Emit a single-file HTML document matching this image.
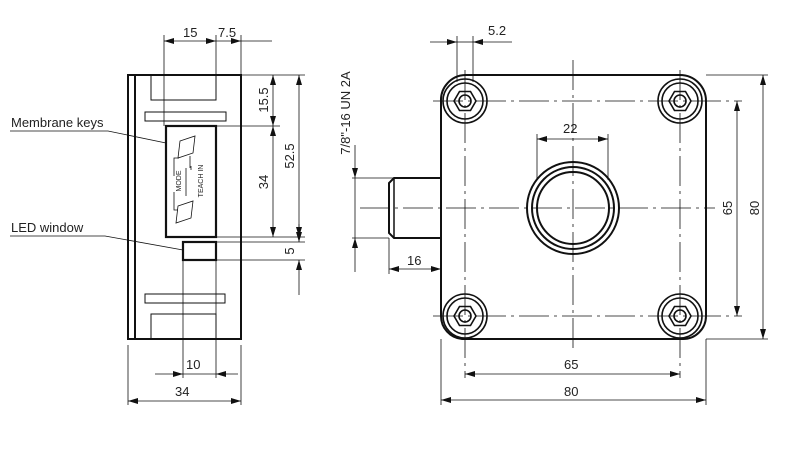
<!DOCTYPE html>
<html><head><meta charset="utf-8"><style>
html,body{margin:0;padding:0;background:#fff;}
svg{display:block;font-family:"Liberation Sans",Arial,sans-serif;}
text{font-size:13px;fill:#222;}
</style></head><body>
<svg width="800" height="461" viewBox="0 0 800 461" xmlns="http://www.w3.org/2000/svg">
<defs>
<marker id="a" viewBox="0 0 10 6" refX="10" refY="3" markerWidth="10" markerHeight="6" orient="auto-start-reverse" markerUnits="userSpaceOnUse"><path d="M0,0 L10,3 L0,6 z" fill="#111"/></marker>
</defs>
<g fill="none" stroke="#111">
<rect x="128" y="75" width="113" height="264" stroke-width="2"/>
<line x1="135" y1="75" x2="135" y2="339" stroke-width="2"/>
<polyline points="151,75 151,100 216,100 216,75" stroke-width="1"/>
<rect x="145" y="112" width="81" height="9" stroke-width="1"/>
<rect x="166" y="126" width="50" height="111" stroke-width="2.2"/>
<rect x="183" y="242" width="33" height="18" stroke-width="2.2"/>
<rect x="145" y="294" width="80" height="9" stroke-width="1"/>
<polyline points="151,339 151,314 216,314 216,339" stroke-width="1"/>
<g stroke-width="0.8">
<polygon points="180,141 195,136 193,153 178,158"/>
<polygon points="178,206 193,201 191,218 176,223"/>
<polyline points="179,158 174,158 174,176"/>
<polyline points="174,192 174,210 178,210"/>
<line x1="190" y1="156" x2="190" y2="168"/>
<line x1="186" y1="168" x2="186" y2="196"/>
<line x1="191" y1="166" x2="191" y2="170"/>
</g>
<g stroke-width="0.8">
<line x1="164" y1="35" x2="164" y2="126"/>
<line x1="216" y1="35" x2="216" y2="75"/>
<line x1="241" y1="35" x2="241" y2="75"/>
<line x1="164" y1="41" x2="216" y2="41" marker-start="url(#a)" marker-end="url(#a)"/>
<line x1="216" y1="41" x2="241" y2="41" marker-end="url(#a)"/>
<line x1="241" y1="41" x2="272" y2="41"/>
<line x1="241" y1="75" x2="305" y2="75"/>
<line x1="216" y1="126" x2="280" y2="126"/>
<line x1="216" y1="237" x2="305" y2="237"/>
<line x1="216" y1="242" x2="305" y2="242"/>
<line x1="216" y1="260" x2="305" y2="260"/>
<line x1="273" y1="75" x2="273" y2="126" marker-start="url(#a)" marker-end="url(#a)"/>
<line x1="273" y1="126" x2="273" y2="237" marker-start="url(#a)" marker-end="url(#a)"/>
<line x1="299" y1="75" x2="299" y2="237" marker-start="url(#a)" marker-end="url(#a)"/>
<line x1="299" y1="224" x2="299" y2="242" marker-end="url(#a)"/>
<line x1="299" y1="295" x2="299" y2="260" marker-end="url(#a)"/>
<line x1="183" y1="260" x2="183" y2="378"/>
<line x1="216" y1="260" x2="216" y2="378"/>
<line x1="128" y1="345" x2="128" y2="405"/>
<line x1="241" y1="345" x2="241" y2="405"/>
<line x1="155" y1="374" x2="183" y2="374" marker-end="url(#a)"/>
<line x1="238" y1="374" x2="216" y2="374" marker-end="url(#a)"/>
<line x1="183" y1="374" x2="216" y2="374"/>
<line x1="128" y1="401" x2="241" y2="401" marker-start="url(#a)" marker-end="url(#a)"/>
<polyline points="10,131 108,131 166,143"/>
<polyline points="10,236 105,236 183,250"/>
</g>

<path d="M465,75 L680,75 A26,26 0 0 1 706,101 L706,316 A23,23 0 0 1 683,339 L462,339 A23,23 0 0 1 441,316 L441,101 A25,25 0 0 1 465,75 Z" stroke-width="2"/>
<path d="M441,178 L394,178 L389,183 L389,233 L394,238 L441,238" stroke-width="2"/>
<line x1="394" y1="178" x2="394" y2="238" stroke-width="1.5"/>
<g stroke-width="1.6">
<g transform="translate(465,101)"><circle r="22"/><circle r="18"/><polygon points="11,0 5.5,9.5 -5.5,9.5 -11,0 -5.5,-9.5 5.5,-9.5"/><circle r="6"/></g>
<g transform="translate(680,101)"><circle r="22"/><circle r="18"/><polygon points="11,0 5.5,9.5 -5.5,9.5 -11,0 -5.5,-9.5 5.5,-9.5"/><circle r="6"/></g>
<g transform="translate(465,316)"><circle r="22"/><circle r="18"/><polygon points="11,0 5.5,9.5 -5.5,9.5 -11,0 -5.5,-9.5 5.5,-9.5"/><circle r="6"/></g>
<g transform="translate(680,316)"><circle r="22"/><circle r="18"/><polygon points="11,0 5.5,9.5 -5.5,9.5 -11,0 -5.5,-9.5 5.5,-9.5"/><circle r="6"/></g>
</g>
<g stroke-width="2"><circle cx="573" cy="208" r="46"/><circle cx="573" cy="208" r="41"/><circle cx="573" cy="208" r="36"/></g>
<g stroke-width="0.8" stroke-dasharray="30,5,3,5">
<line x1="433" y1="101" x2="742" y2="101"/>
<line x1="433" y1="316" x2="742" y2="316"/>
<line x1="360" y1="208" x2="715" y2="208"/>
<line x1="573" y1="60" x2="573" y2="350"/>
<line x1="465" y1="70" x2="465" y2="378"/>
<line x1="680" y1="70" x2="680" y2="378"/>
</g>
<g stroke-width="0.8">
<line x1="457" y1="36" x2="457" y2="82"/>
<line x1="473" y1="36" x2="473" y2="82"/>
<line x1="430" y1="42" x2="457" y2="42" marker-end="url(#a)"/>
<line x1="512" y1="42" x2="473" y2="42" marker-end="url(#a)"/>
<line x1="457" y1="42" x2="473" y2="42"/>
<line x1="537" y1="134" x2="537" y2="180"/>
<line x1="608" y1="134" x2="608" y2="180"/>
<line x1="537" y1="139" x2="608" y2="139" marker-start="url(#a)" marker-end="url(#a)"/>
<line x1="706" y1="75" x2="768" y2="75"/>
<line x1="706" y1="339" x2="768" y2="339"/>
<line x1="737" y1="101" x2="737" y2="316" marker-start="url(#a)" marker-end="url(#a)"/>
<line x1="763" y1="75" x2="763" y2="339" marker-start="url(#a)" marker-end="url(#a)"/>
<line x1="441" y1="339" x2="441" y2="405"/>
<line x1="706" y1="339" x2="706" y2="405"/>
<line x1="465" y1="374" x2="680" y2="374" marker-start="url(#a)" marker-end="url(#a)"/>
<line x1="441" y1="400" x2="706" y2="400" marker-start="url(#a)" marker-end="url(#a)"/>
<line x1="352" y1="178" x2="394" y2="178"/>
<line x1="352" y1="238" x2="389" y2="238"/>
<line x1="355" y1="145" x2="355" y2="178" marker-end="url(#a)"/>
<line x1="355" y1="272" x2="355" y2="238" marker-end="url(#a)"/>
<line x1="355" y1="178" x2="355" y2="238"/>
<line x1="389" y1="238" x2="389" y2="274"/>
<line x1="389" y1="269" x2="441" y2="269" marker-start="url(#a)" marker-end="url(#a)"/>
</g>
</g>

<text x="11" y="127">Membrane keys</text>
<text x="11" y="232">LED window</text>
<text x="183" y="37">15</text>
<text x="218" y="37">7.5</text>
<text x="186" y="369">10</text>
<text x="175" y="396">34</text>
<text transform="translate(268,100) rotate(-90)" text-anchor="middle">15.5</text>
<text transform="translate(268,182) rotate(-90)" text-anchor="middle">34</text>
<text transform="translate(294,156) rotate(-90)" text-anchor="middle">52.5</text>
<text transform="translate(294,251) rotate(-90)" text-anchor="middle">5</text>
<text transform="translate(181,181) rotate(-90)" text-anchor="middle" style="font-size:7px">MODE</text>
<text transform="translate(203,181) rotate(-90)" text-anchor="middle" style="font-size:7px">TEACH IN</text>
<text x="488" y="35">5.2</text>
<text x="563" y="133">22</text>
<text transform="translate(732,208) rotate(-90)" text-anchor="middle">65</text>
<text transform="translate(759,208) rotate(-90)" text-anchor="middle">80</text>
<text x="564" y="369">65</text>
<text x="564" y="396">80</text>
<text x="407" y="265">16</text>
<text transform="translate(350,113) rotate(-90)" text-anchor="middle">7/8"-16 UN 2A</text>
</svg>
</body></html>
